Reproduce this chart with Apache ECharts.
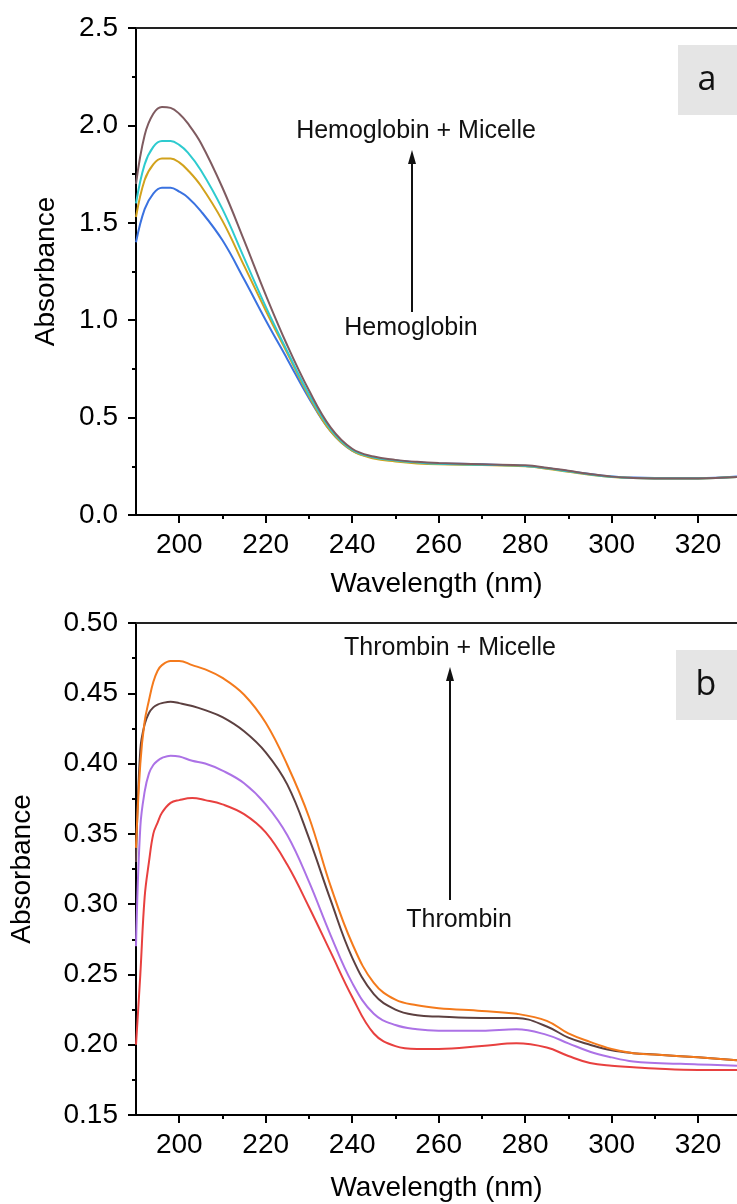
<!DOCTYPE html>
<html>
<head>
<meta charset="utf-8">
<script src="https://cdn.jsdelivr.net/npm/echarts@6/dist/echarts.min.js"></script>
<style>
html,body{margin:0;padding:0;background:#fff;}
#c{width:737px;height:1204px;}
</style>
</head>
<body>
<div id="c"></div>
<script>
// ---------- Data ----------
const wavelengthA = [190,192,194,196,198,200,202,205,210,215,220,225,230,235,240,245,250,255,260,270,280,285,290,295,300,305,310,320,329];
const hemoglobin      = [1.40,1.57,1.65,1.68,1.68,1.66,1.63,1.56,1.41,1.21,1.00,0.80,0.60,0.43,0.33,0.295,0.28,0.27,0.265,0.26,0.252,0.24,0.225,0.21,0.198,0.192,0.19,0.19,0.198];
const hemoglobinM1    = [1.53,1.72,1.80,1.83,1.83,1.81,1.77,1.69,1.51,1.28,1.05,0.83,0.61,0.43,0.33,0.29,0.275,0.265,0.26,0.257,0.25,0.238,0.222,0.207,0.195,0.19,0.188,0.188,0.195];
const hemoglobinM2    = [1.60,1.80,1.89,1.92,1.92,1.90,1.86,1.77,1.57,1.32,1.07,0.84,0.62,0.44,0.335,0.295,0.28,0.27,0.263,0.258,0.252,0.24,0.224,0.208,0.196,0.19,0.188,0.188,0.195];
const hemoglobinMicelle = [1.70,1.95,2.06,2.095,2.09,2.06,2.01,1.91,1.68,1.41,1.13,0.87,0.64,0.45,0.34,0.30,0.283,0.273,0.267,0.26,0.255,0.243,0.227,0.21,0.197,0.19,0.188,0.188,0.195];

const wavelengthB = [190,191,192,193,194,195,196,198,200,203,206,210,215,220,225,230,235,240,245,250,255,260,270,278,285,290,295,300,305,310,320,329];
const thrombin        = [0.20,0.25,0.305,0.33,0.35,0.358,0.365,0.372,0.374,0.3755,0.374,0.371,0.364,0.351,0.328,0.298,0.266,0.234,0.208,0.199,0.197,0.197,0.199,0.201,0.198,0.192,0.187,0.185,0.184,0.183,0.182,0.182];
const thrombinM1      = [0.27,0.355,0.38,0.393,0.399,0.402,0.404,0.4056,0.405,0.402,0.40,0.395,0.386,0.371,0.349,0.316,0.278,0.244,0.222,0.214,0.211,0.21,0.21,0.211,0.207,0.201,0.195,0.191,0.188,0.187,0.186,0.185];
const thrombinM2      = [0.33,0.41,0.428,0.436,0.44,0.442,0.443,0.444,0.443,0.441,0.438,0.433,0.423,0.408,0.385,0.347,0.303,0.262,0.236,0.225,0.221,0.22,0.219,0.219,0.213,0.205,0.20,0.196,0.194,0.193,0.191,0.189];
const thrombinMicelle = [0.34,0.40,0.43,0.445,0.458,0.466,0.470,0.473,0.473,0.470,0.467,0.461,0.449,0.429,0.399,0.362,0.313,0.272,0.244,0.232,0.228,0.226,0.224,0.222,0.217,0.208,0.202,0.197,0.194,0.193,0.191,0.189];

const xMajorTicks = [200,220,240,260,280,300,320];
const xMinorTicks = [210,230,250,270,290,310];
const xAxisTitle = 'Wavelength (nm)';
const yAxisTitle = 'Absorbance';

// ---------- Chart ----------
const FONT = 'Liberation Sans, Arial, sans-serif';
const TICK_FS = 28;
const ANN_FONT = '25px "Liberation Sans", Arial, sans-serif';
const chart = echarts.init(document.getElementById('c'), null, {renderer:'canvas'});

function zip(xs, ys){ return xs.map((x,i)=>[x, ys[i]]); }
function line(name, xs, ys, color, xi, yi){
  return {name, type:'line', xAxisIndex:xi, yAxisIndex:yi, data:zip(xs,ys), smooth:0.4,
    showSymbol:false, symbol:'none', lineStyle:{color, width:2}, z:3};
}
function xAxesFor(gi, gap){
  return [
    {gridIndex:gi, type:'value', min:190, max:329, position:'bottom',
     axisLine:{show:true, lineStyle:{color:'#000', width:2}},
     axisTick:{show:true, customValues:xMajorTicks, length:8, lineStyle:{color:'#000', width:2}},
     axisLabel:{show:true, customValues:xMajorTicks, color:'#000', fontSize:TICK_FS, fontFamily:FONT, margin:16},
     splitLine:{show:false},
     name:xAxisTitle, nameLocation:'middle', nameGap:gap,
     nameTextStyle:{color:'#000', fontSize:TICK_FS, fontFamily:FONT}},
    {gridIndex:gi, type:'value', min:190, max:329, position:'bottom',
     axisLine:{show:false},
     axisTick:{show:true, customValues:xMinorTicks, length:4, lineStyle:{color:'#000', width:2}},
     axisLabel:{show:false}, splitLine:{show:false}},
    {gridIndex:gi, type:'value', min:190, max:329, position:'top',
     axisLine:{show:true, lineStyle:{color:'#222', width:2}},
     axisTick:{show:false}, axisLabel:{show:false}, splitLine:{show:false}}
  ];
}

const option = {
  backgroundColor:'#fff',
  animation:false,
  grid:[
    {left:136, top:28, right:0, height:487, containLabel:false},
    {left:136, top:623, right:0, height:492, containLabel:false}
  ],
  xAxis:[...xAxesFor(0, 55), ...xAxesFor(1, 59)],
  yAxis:[
    {gridIndex:0, type:'value', min:0, max:2.5, interval:0.5,
     axisLine:{show:true, lineStyle:{color:'#000', width:2}},
     axisTick:{show:true, length:8, lineStyle:{color:'#000', width:2}},
     minorTick:{show:true, splitNumber:2, length:4, lineStyle:{color:'#000', width:2}},
     axisLabel:{color:'#000', fontSize:TICK_FS, fontFamily:FONT, margin:18, formatter:v=>v.toFixed(1)},
     splitLine:{show:false},
     name:yAxisTitle, nameLocation:'middle', nameGap:76,
     nameTextStyle:{color:'#000', fontSize:TICK_FS, fontFamily:FONT}},
    {gridIndex:1, type:'value', min:0.15, max:0.5, interval:0.05,
     axisLine:{show:true, lineStyle:{color:'#000', width:2}},
     axisTick:{show:true, length:8, lineStyle:{color:'#000', width:2}},
     minorTick:{show:true, splitNumber:2, length:4, lineStyle:{color:'#000', width:2}},
     axisLabel:{color:'#000', fontSize:TICK_FS, fontFamily:FONT, margin:18, formatter:v=>v.toFixed(2)},
     splitLine:{show:false},
     name:yAxisTitle, nameLocation:'middle', nameGap:100,
     nameTextStyle:{color:'#000', fontSize:TICK_FS, fontFamily:FONT}}
  ],
  series:[
    line('Hemoglobin', wavelengthA, hemoglobin, '#3a72e0', 0, 0),
    line('Hemoglobin M1', wavelengthA, hemoglobinM1, '#d2a21c', 0, 0),
    line('Hemoglobin M2', wavelengthA, hemoglobinM2, '#2ecbcf', 0, 0),
    line('Hemoglobin + Micelle', wavelengthA, hemoglobinMicelle, '#7f5b60', 0, 0),
    line('Thrombin', wavelengthB, thrombin, '#e8403f', 3, 1),
    line('Thrombin M1', wavelengthB, thrombinM1, '#ac72e6', 3, 1),
    line('Thrombin M2', wavelengthB, thrombinM2, '#5c4040', 3, 1),
    line('Thrombin + Micelle', wavelengthB, thrombinMicelle, '#f47a1c', 3, 1)
  ],
  graphic:[
    // panel labels
    {type:'rect', shape:{x:678, y:45, width:59, height:70}, style:{fill:'#e5e5e5'}},
    {type:'text', x:707, y:80, style:{text:'a', font:'34px "Open Sans", sans-serif', fill:'#111', align:'center', verticalAlign:'middle'}},
    {type:'rect', shape:{x:676, y:650, width:61, height:70}, style:{fill:'#e5e5e5'}},
    {type:'text', x:706, y:685, style:{text:'b', font:'34px "Open Sans", sans-serif', fill:'#111', align:'center', verticalAlign:'middle'}},
    // panel a annotation
    {type:'text', x:416, y:131, style:{text:'Hemoglobin + Micelle', font:ANN_FONT, fill:'#111', align:'center', verticalAlign:'middle'}},
    {type:'line', shape:{x1:412, y1:312, x2:412, y2:160}, style:{stroke:'#111', lineWidth:2}},
    {type:'polygon', shape:{points:[[412,150],[408,164],[416,164]]}, style:{fill:'#111'}},
    {type:'text', x:411, y:328, style:{text:'Hemoglobin', font:ANN_FONT, fill:'#111', align:'center', verticalAlign:'middle'}},
    // panel b annotation
    {type:'text', x:450, y:648, style:{text:'Thrombin + Micelle', font:ANN_FONT, fill:'#111', align:'center', verticalAlign:'middle'}},
    {type:'line', shape:{x1:450, y1:900, x2:450, y2:678}, style:{stroke:'#111', lineWidth:2}},
    {type:'polygon', shape:{points:[[450,667],[446,681],[454,681]]}, style:{fill:'#111'}},
    {type:'text', x:459, y:920, style:{text:'Thrombin', font:ANN_FONT, fill:'#111', align:'center', verticalAlign:'middle'}}
  ]
};
chart.setOption(option);
</script>
</body>
</html>
